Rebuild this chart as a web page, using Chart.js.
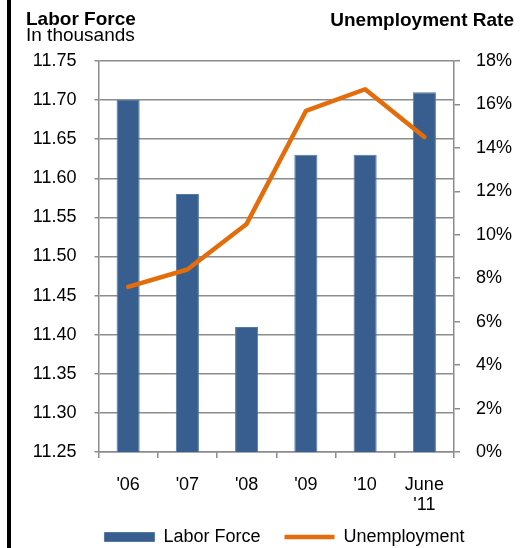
<!DOCTYPE html>
<html>
<head>
<meta charset="utf-8">
<title>Labor Force and Unemployment Rate</title>
<script src="https://cdn.jsdelivr.net/npm/chart.js@4.4.1/dist/chart.umd.min.js"></script>
<style>
    html, body { margin: 0; padding: 0; background: #fff; }
    #wrap { position: relative; width: 529px; height: 548px; overflow: hidden; font-family: 'Liberation Sans', Arial, sans-serif; color: #000; }
    #frame { position: absolute; left: 7px; top: 0; width: 4px; height: 548px; background: #000; }
    .title { position: absolute; font-size: 19px; line-height: 19px; white-space: nowrap; }
    .bold { font-weight: bold; }
    canvas { position: absolute; left: 0; top: 0; }
</style>
</head>
<body>
<div id="wrap">
    <canvas id="laborChart" width="529" height="548"></canvas>
    <div id="frame"></div>
    <div class="title bold" style="left:26px; top:9px;">Labor Force</div>
    <div class="title" style="left:26px; top:25px;">In thousands</div>
    <div class="title bold" style="right:15px; top:10px;">Unemployment Rate</div>
</div>
<script>
// valeurs
const categories = ["'06", "'07", "'08", "'09", "'10", ['June', "'11"]];
const laborForce = [11.70, 11.58, 11.41, 11.63, 11.63, 11.71];
const unemploymentRate = [7.6, 8.4, 10.5, 15.7, 16.7, 14.5];

const gridColor = '#8c8c8c';
const font = { family: "'Liberation Sans', Arial, sans-serif", size: 18 };

// la légende est décalée à la main pour coller à l'original
const legendShift = {
    id: 'legendShift',
    afterLayout(chart) {
        const lg = chart.legend;
        lg.left += 20;
        lg.right += 20;
        lg.top = 504;
    }
};

new Chart(document.getElementById('laborChart'), {
    type: 'bar',
    data: {
        labels: categories,
        datasets: [{
            label: 'Labor Force',
            data: laborForce,
            backgroundColor: '#385e8f',
            borderColor: '#5479a8',
            borderWidth: 1,
            borderSkipped: 'bottom',
            barPercentage: 0.39,
            categoryPercentage: 1,
            pointStyle: 'rect',
            yAxisID: 'y',
            order: 1
        }, {
            type: 'line',
            label: 'Unemployment',
            data: unemploymentRate,
            borderColor: '#e46c0a',
            backgroundColor: '#e46c0a',
            borderWidth: 4.5,
            borderCapStyle: 'round',
            borderJoinStyle: 'round',
            pointRadius: 0,
            pointHoverRadius: 0,
            pointStyle: 'line',
            tension: 0,
            fill: false,
            yAxisID: 'y1',
            order: 0
        }]
    },
    options: {
        responsive: false,
        animation: false,
        devicePixelRatio: 1,
        layout: { padding: { top: 61, left: 0, right: 0, bottom: 0 } },
        plugins: {
            tooltip: { enabled: false },
            legend: {
                position: 'bottom',
                maxHeight: 32,
                labels: {
                    usePointStyle: true,
                    pointStyleWidth: 50,
                    boxHeight: 9,
                    padding: 24,
                    color: '#000',
                    font: font,
                    sort: (a, b) => a.datasetIndex - b.datasetIndex
                }
            }
        },
        scales: {
            x: {
                afterFit: scale => { scale.height = 64; },
                grid: { display: true, drawOnChartArea: false, drawTicks: true, tickLength: 6, color: gridColor, lineWidth: 1.5 },
                border: { display: true, color: gridColor, width: 1.5 },
                ticks: { color: '#000', font: { ...font, lineHeight: 20 / 18 }, padding: 17, maxRotation: 0, autoSkip: false }
            },
            y: {
                position: 'left',
                min: 11.25,
                max: 11.75,
                afterFit: scale => { scale.width = 98.5; },
                grid: { color: gridColor, lineWidth: 1.5, tickLength: 4 },
                border: { display: true, color: gridColor, width: 1.5 },
                ticks: {
                    stepSize: 0.05,
                    padding: 18,
                    color: '#000',
                    font: font,
                    callback: v => v.toFixed(2)
                }
            },
            y1: {
                position: 'right',
                min: 0,
                max: 18,
                afterFit: scale => { scale.width = 75; },
                grid: { drawOnChartArea: false, color: gridColor, lineWidth: 1.5, tickLength: 6 },
                border: { display: true, color: gridColor, width: 1.5 },
                ticks: {
                    stepSize: 2,
                    padding: 16,
                    color: '#000',
                    font: font,
                    callback: v => v + '%'
                }
            }
        }
    },
    plugins: [legendShift]
});
</script>
</body>
</html>
